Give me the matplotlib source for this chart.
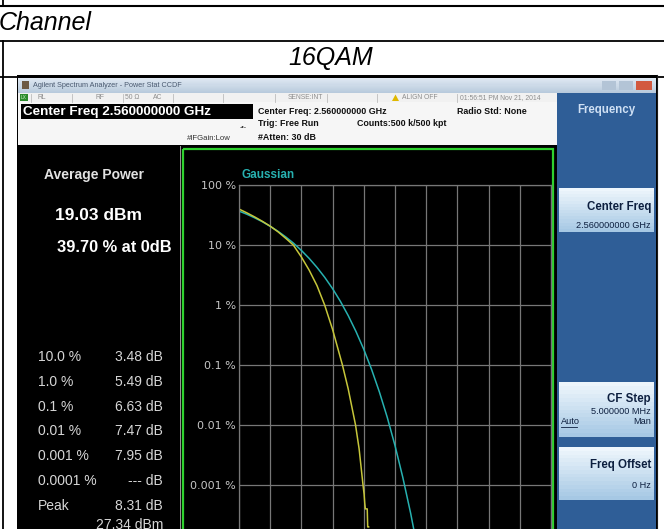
import matplotlib
matplotlib.use("Agg")
import matplotlib.pyplot as plt
from matplotlib.patches import Rectangle, Polygon
from matplotlib.colors import to_rgb
import numpy as np

W, H = 664, 529

# ── values ────────────────────────────────────────────────────────────────────
GAUSS_DB = [0, 0.5, 1, 1.5, 2, 2.5, 3, 3.5, 4, 4.5, 5, 5.5, 6, 6.5, 7, 7.5,
            8, 8.5, 9, 9.5, 10, 10.5, 11, 11.5]
GAUSS_PCT = [36.8, 32.6, 28.4, 24.4, 20.5, 16.9, 13.6, 10.7, 8.11, 5.97, 4.23,
             2.88, 1.87, 1.15, 0.666, 0.361, 0.182, 0.0843, 0.0355, 0.0135,
             0.00454, 0.00134, 0.000341, 0.0000733]

MEAS_DB = [0, 0.5, 1, 1.5, 2, 2.5, 3, 3.48, 4.0, 4.5, 5.0, 5.49, 6.0, 6.63,
           7.0, 7.47, 7.7, 7.95, 8.02, 8.06, 8.1, 8.22, 8.25, 8.31]
MEAS_PCT = [39.7, 34.4, 29.4, 24.8, 20.6, 16.6, 12.9, 10.0, 6.3, 3.8, 2.1,
            1.0, 0.39, 0.1, 0.04, 0.01, 0.004, 0.001, 0.0007, 0.0005,
            0.0004, 0.0004, 0.0002, 0.0002]

X_TICKS = [0, 2, 4, 6, 8, 10, 12, 14, 16, 18, 20]
Y_TICKS = [100, 10, 1, 0.1, 0.01, 0.001, 0.0001]
Y_LABELS = ["100 %", "10 %", "1 %", "0.1 %", "0.01 %", "0.001 %", ""]

AVG_POWER = "19.03 dBm"
AT_0DB = "39.70 % at 0dB"
STAT_PROB = ["10.0 %", "1.0 %", "0.1 %", "0.01 %", "0.001 %", "0.0001 %", "Peak"]
STAT_DB = ["3.48 dB", "5.49 dB", "6.63 dB", "7.47 dB", "7.95 dB", "--- dB", "8.31 dB"]
PEAK_DBM = "27.34 dBm"

YELLOW = "#c6c63a"
CYAN = "#27b1b0"
GREEN = "#2fd12f"
NAVY = "#0d1f3f"
PANEL_BLUE = "#2f5e97"
SANS = ["Liberation Sans", "DejaVu Sans"]

fig = plt.figure(figsize=(W / 100, H / 100), dpi=100)
bg = fig.add_axes([0, 0, 1, 1])
bg.set_xlim(0, W)
bg.set_ylim(H, 0)
bg.axis("off")


def rect(x0, y0, x1, y1, color, **kw):
    bg.add_patch(Rectangle((x0, y0), x1 - x0, y1 - y0, facecolor=color,
                           edgecolor="none", **kw))


def grad(x0, y0, x1, y1, c_top, c_bot, n=14):
    a, b = np.array(to_rgb(c_top)), np.array(to_rgb(c_bot))
    step = (y1 - y0) / n
    for i in range(n):
        t = i / (n - 1)
        rect(x0, y0 + i * step, x1, y0 + (i + 1) * step + 0.3, a + (b - a) * t)


def txt(x, y, s, size, color="black", ha="left", weight="normal", **kw):
    bg.text(x, y, s, fontsize=size, color=color, ha=ha, va="center",
            fontweight=weight, family=SANS, **kw)


# ── document table ────────────────────────────────────────────────────────────
bg.plot([0, W], [5.5, 5.5], color="black", lw=1.5)
bg.plot([0, W], [41, 41], color="black", lw=1.3)
bg.plot([0, W], [76.5, 76.5], color="black", lw=1.3)
bg.plot([3, 3], [0, 6], color="black", lw=1.3)
bg.plot([3, 3], [41, H], color="black", lw=1.3)
txt(-1.5, 23.5, "Channel", 18, style="italic")
txt(331, 58.5, "16QAM", 18, ha="center", style="italic")

# ── analyzer screenshot frame ─────────────────────────────────────────────────
rect(17, 75, 658, H, "black")
grad(18, 78, 656, 93, "#dfe8f2", "#b8cadc")
rect(22, 81, 29, 89, "#6d5a44")
txt(33, 85.5, "Agilent Spectrum Analyzer - Power Stat CCDF", 5.2, "#4a5a70")
rect(602, 81, 616, 90, "#b3c4d6")
rect(619, 81, 633, 90, "#b3c4d6")
rect(636, 81, 652, 90, "#d2593f")

# status row
rect(18, 93, 557, 102, "#f1f1f1")
for sx in [31, 72, 123, 173, 223, 275, 327, 377, 457]:
    bg.plot([sx, sx], [93.5, 101.5], color="#bdbdbd", lw=0.6)
rect(20, 94, 28, 101, "#2b8b2b")
txt(21, 97.5, "LX", 3.5, "#c8f0c8")
for s, sx in [("RL", 37), ("RF", 95), ("50 Ω", 125), ("AC", 153),
              ("SENSE:INT", 288), ("ALIGN OFF", 402),
              ("01:56:51 PM Nov 21, 2014", 460)]:
    txt(sx, 97.5, s, 4.9, "#8c8c8c")
bg.add_patch(Polygon([[392, 101], [399, 101], [395.5, 94.5]], closed=True,
                     facecolor="#e0b800", edgecolor="none"))

# settings area
rect(18, 102, 557, 145, "#f6f6f6")
rect(21, 104, 253, 119, "black")
txt(23, 111.5, "Center Freq 2.560000000 GHz", 9.7, "white", weight="bold")
txt(243, 127, "-•-", 5, "#333333", ha="center")
txt(187, 138, "#IFGain:Low", 5.6, "#333333")
txt(258, 111, "Center Freq: 2.560000000 GHz", 6.4, "#111111", weight="bold")
txt(258, 124, "Trig: Free Run", 6.4, "#111111", weight="bold")
txt(258, 137, "#Atten: 30 dB", 6.4, "#111111", weight="bold")
txt(357, 124, "Counts:500 k/500 kpt", 6.4, "#111111", weight="bold")
txt(457, 111, "Radio Std: None", 6.4, "#111111", weight="bold")

# display area
rect(18, 145, 557, H, "black")
bg.plot([180, 180], [146, H], color="#9a9a9a", lw=0.7)
bg.add_patch(Rectangle((183, 148.5), 369.5, 400, facecolor="none",
                       edgecolor=GREEN, lw=1.6))

# left measurement panel
txt(44, 175, "Average Power", 10, "#e2e2e2", weight="bold")
txt(55, 215, AVG_POWER, 12.5, "white", weight="bold")
txt(57, 247, AT_0DB, 11.8, "white", weight="bold")
for i, (p, v) in enumerate(zip(STAT_PROB, STAT_DB)):
    y = 357 + i * 24.8
    txt(38, y, p, 10, "#d6d6d6")
    txt(163, y, v, 10, "#d6d6d6", ha="right")
txt(163, 525, PEAK_DBM, 10, "#d6d6d6", ha="right")

txt(241, 175, "Gaussian", 8.5, CYAN, weight="bold")

# soft key panel
rect(557, 93, 656, H, PANEL_BLUE)
bg.plot([656.5, 656.5], [75, H], color="#1a1a1a", lw=0.8)
txt(606, 110, "Frequency", 8.3, "#cfe0f4", ha="center", weight="bold")
for y0, y1 in [(188, 232), (382, 437), (447, 500)]:
    grad(559, y0, 654, y1, "#eef6fc", "#a6c8e4")
txt(651, 207, "Center Freq", 8.3, NAVY, ha="right", weight="bold")
txt(651, 225, "2.560000000 GHz", 6.6, NAVY, ha="right")
txt(651, 399, "CF Step", 8.3, NAVY, ha="right", weight="bold")
txt(651, 411, "5.000000 MHz", 6.6, NAVY, ha="right")
txt(561, 422, "Auto", 6.6, NAVY)
bg.plot([561, 577], [426.5, 426.5], color=NAVY, lw=0.6)
txt(651, 422, "Man", 6.6, NAVY, ha="right")
txt(651, 465, "Freq Offset", 8.3, NAVY, ha="right", weight="bold")
txt(651, 485, "0 Hz", 6.6, NAVY, ha="right")

# ── CCDF plot ─────────────────────────────────────────────────────────────────
x0, x1, ytop, ybot = 239, 551, 185, 545
ax = fig.add_axes([x0 / W, 1 - ybot / H, (x1 - x0) / W, (ybot - ytop) / H])
ax.set_facecolor("black")
ax.set_yscale("log")
ax.set_xlim(0, 20)
ax.set_ylim(Y_TICKS[-1], Y_TICKS[0])
ax.set_xticks(X_TICKS)
ax.set_yticks(Y_TICKS)
ax.minorticks_off()
ax.set_yticklabels(Y_LABELS)
ax.set_xticklabels([])
ax.tick_params(length=0, labelsize=8, colors="#c6c6c6", pad=2)
ax.grid(True, color="#777777", lw=0.9)
for sp in ax.spines.values():
    sp.set_color("#777777")
    sp.set_linewidth(0.9)

ax.plot(GAUSS_DB, GAUSS_PCT, color=CYAN, lw=1.1)
ax.plot(MEAS_DB, MEAS_PCT, color=YELLOW, lw=1.1)

fig.savefig("out.png", dpi=100)
